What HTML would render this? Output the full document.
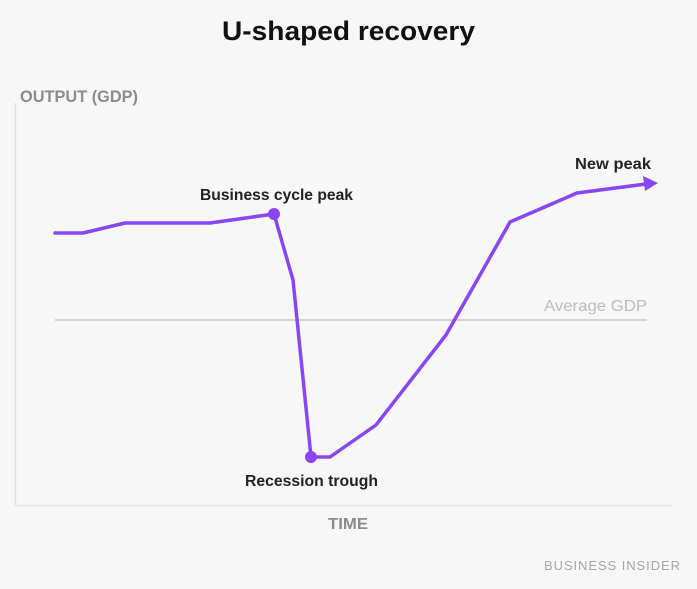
<!DOCTYPE html>
<html><head><meta charset="utf-8"><style>
html,body{margin:0;padding:0;background:#f7f7f7;}
svg{display:block;}
text{font-family:"Liberation Sans",sans-serif;}
</style></head><body>
<svg width="697" height="589" viewBox="0 0 697 589" xmlns="http://www.w3.org/2000/svg">
<rect width="697" height="589" fill="#f7f7f7"/>
<text x="222" y="40" font-size="27" font-weight="bold" fill="#111" textLength="253" lengthAdjust="spacingAndGlyphs">U-shaped recovery</text>
<text x="20" y="102" font-size="17" font-weight="bold" fill="#8c8c8c" textLength="118" lengthAdjust="spacingAndGlyphs">OUTPUT (GDP)</text>
<line x1="15.5" y1="103" x2="15.5" y2="505" stroke="#e2e2e2" stroke-width="1.5"/>
<line x1="15" y1="505.5" x2="672" y2="505.5" stroke="#e2e2e2" stroke-width="1.5"/>
<line x1="55" y1="320" x2="647" y2="320" stroke="#c8c8c8" stroke-width="1.5"/>
<text x="647" y="311" font-size="16" fill="#bdbdbd" text-anchor="end" textLength="103" lengthAdjust="spacingAndGlyphs">Average GDP</text>
<polyline points="55,233 83,233 125,223 210,223 274,214 293,280 311,457 330,457 376,425 446,335 510,222 577,193 646,184" fill="none" stroke="#8a45f5" stroke-width="3.5" stroke-linejoin="round" stroke-linecap="round"/>
<polygon points="658,183 643,176 645,191" fill="#8a45f5"/>
<circle cx="274" cy="214" r="6" fill="#8a45f5"/>
<circle cx="311" cy="457" r="6" fill="#8a45f5"/>
<text x="200" y="200" font-size="16" font-weight="bold" fill="#222" textLength="153" lengthAdjust="spacingAndGlyphs">Business cycle peak</text>
<text x="575" y="169" font-size="16" font-weight="bold" fill="#222" textLength="76" lengthAdjust="spacingAndGlyphs">New peak</text>
<text x="245" y="486" font-size="16" font-weight="bold" fill="#222" textLength="133" lengthAdjust="spacingAndGlyphs">Recession trough</text>
<text x="328" y="529" font-size="16" font-weight="bold" fill="#8c8c8c" textLength="40" lengthAdjust="spacingAndGlyphs">TIME</text>
<text x="544" y="570" font-size="13" fill="#a5a5a5" textLength="136" lengthAdjust="spacing">BUSINESS INSIDER</text>
</svg>
</body></html>
